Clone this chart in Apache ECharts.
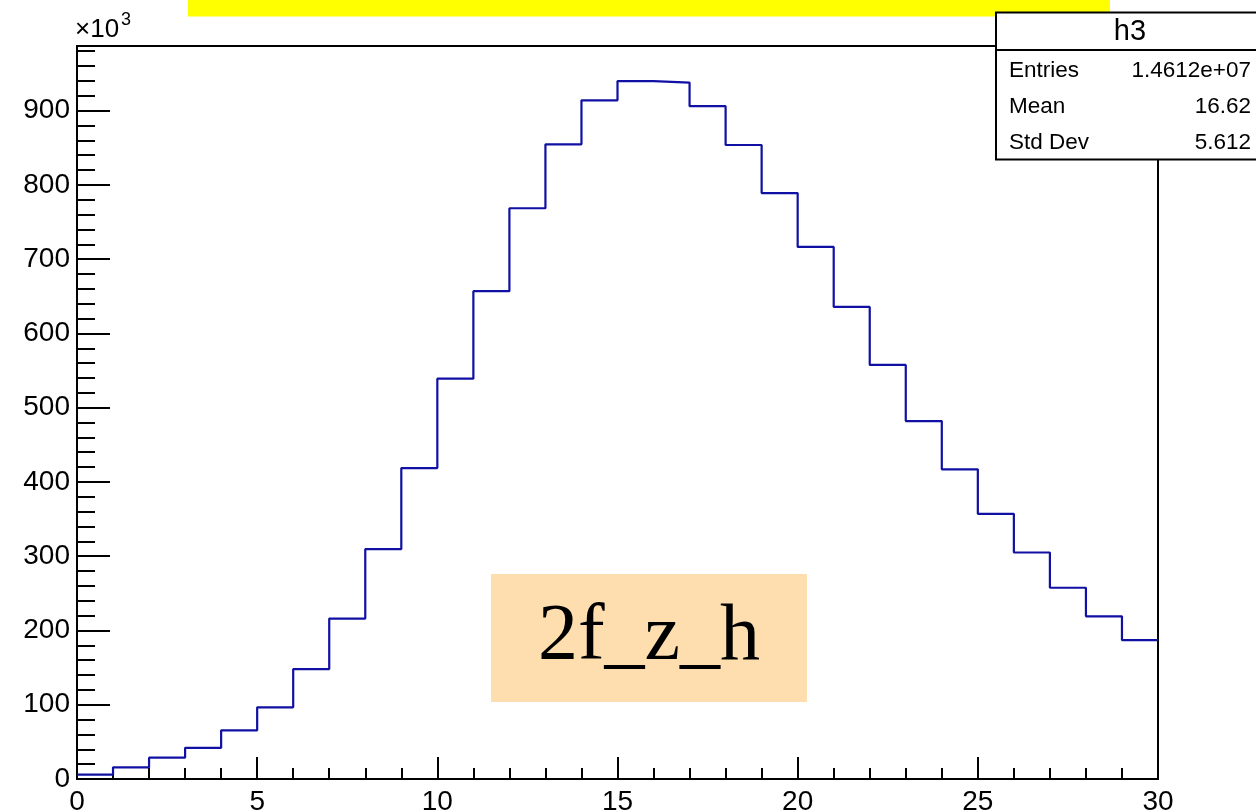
<!DOCTYPE html>
<html>
<head>
<meta charset="utf-8">
<script src="https://cdn.jsdelivr.net/npm/echarts@6/dist/echarts.min.js"></script>
<style>
  html, body { margin: 0; padding: 0; background: #fff; }
  #chart { width: 1256px; height: 812px; }
</style>
</head>
<body>
<div id="chart"></div>
<script>
// bin lower edges (30 bins, width 1) and contents in units of 10^3
const binEdges = [0, 1, 2, 3, 4, 5, 6, 7, 8, 9, 10, 11, 12, 13, 14, 15, 16, 17, 18, 19, 20, 21, 22, 23, 24, 25, 26, 27, 28, 29, 30]
const binCounts = [6, 15.7, 28.7, 42, 65.5, 96.5, 148, 216, 309.6, 418.6,
  539, 656.8, 768.5, 854.6, 913.9, 939.8, 937.7, 906, 853.7, 789,
  716.4, 635.7, 557.6, 482, 417, 357, 305, 257.5, 219, 187]
const xTicks = [0, 5, 10, 15, 20, 25, 30]
const yTicks = [0, 100, 200, 300, 400, 500, 600, 700, 800, 900]
const statNames = ['Entries', 'Mean', 'Std Dev']
const statValues = ['1.4612e+07', '16.62', '5.612']

const chart = echarts.init(document.getElementById('chart'))

// step line: last edge repeats the last bin so the top of bin 29 reaches x = 30
const stepData = binEdges.map((x, i) => [x, binCounts[Math.min(i, binCounts.length - 1)]])

const sans = '"Liberation Sans", Arial, sans-serif'

const statsGraphics = []
statNames.forEach((name, i) => {
  statsGraphics.push({
    type: 'text', z: 101,
    style: { text: name, x: 1009, y: 71 + i * 36, font: '22.5px ' + sans, fill: '#000', verticalAlign: 'middle' }
  })
  statsGraphics.push({
    type: 'text', z: 101,
    style: { text: statValues[i], x: 1251, y: 71 + i * 36, font: '22.5px ' + sans, fill: '#000', align: 'right', verticalAlign: 'middle' }
  })
})

const option = {
  animation: false,
  backgroundColor: '#fff',
  grid: {
    left: 77, right: 98, top: 46, bottom: 33,
    outerBoundsMode: 'none',
    show: true, borderColor: '#000', borderWidth: 2
  },
  xAxis: {
    type: 'value', min: xTicks[0], max: xTicks[xTicks.length - 1], interval: 5,
    axisLine: { onZero: false, lineStyle: { color: '#000', width: 2 } },
    axisTick: { inside: true, length: 22, lineStyle: { color: '#000', width: 2 } },
    minorTick: { show: true, splitNumber: 5, length: 11, lineStyle: { color: '#000', width: 2 } },
    splitLine: { show: false },
    axisLabel: { color: '#000', fontSize: 28, fontFamily: sans, margin: 9 }
  },
  yAxis: {
    type: 'value', min: yTicks[0], max: 987, interval: 100,
    axisLine: { show: true, lineStyle: { color: '#000', width: 2 } },
    axisTick: { show: true, inside: true, length: 33, lineStyle: { color: '#000', width: 2 } },
    minorTick: { show: true, splitNumber: 5, length: 18, lineStyle: { color: '#000', width: 2 } },
    splitLine: { show: false },
    axisLabel: { color: '#000', fontSize: 28, fontFamily: sans, margin: 7, showMaxLabel: false }
  },
  series: [{
    type: 'line',
    step: 'end',
    data: stepData,
    symbol: 'none',
    lineStyle: { color: '#1010a4', width: 2.2 },
    z: 5
  }],
  graphic: [
    // yellow strip at the top
    { type: 'rect', z: 100, shape: { x: 188, y: 0, width: 922, height: 16.5 }, style: { fill: '#ffff00' } },
    // exponent of the y axis
    { type: 'text', z: 100, style: { text: '×10', x: 75, y: 43, font: '26px ' + sans, fill: '#000', verticalAlign: 'bottom' } },
    { type: 'text', z: 100, style: { text: '3', x: 121, y: 11, font: '18px ' + sans, fill: '#000' } },
    // stats box
    { type: 'rect', z: 100, shape: { x: 996, y: 12.5, width: 270, height: 147 }, style: { fill: '#fff', stroke: '#000', lineWidth: 2 } },
    { type: 'line', z: 101, shape: { x1: 996, y1: 50, x2: 1266, y2: 50 }, style: { stroke: '#000', lineWidth: 2 } },
    { type: 'text', z: 101, style: { text: 'h3', x: 1130, y: 32, font: '29px ' + sans, fill: '#000', align: 'center', verticalAlign: 'middle' } },
    ...statsGraphics,
    // label box
    { type: 'rect', z: 100, shape: { x: 491, y: 574, width: 316, height: 128 }, style: { fill: '#fedeae' } },
    { type: 'text', z: 101, style: { text: '2f_z_h', x: 649, y: 638, font: '80px "Liberation Serif", "Times New Roman", serif', fill: '#000', align: 'center', verticalAlign: 'middle' } }
  ]
}

chart.setOption(option)
</script>
</body>
</html>
